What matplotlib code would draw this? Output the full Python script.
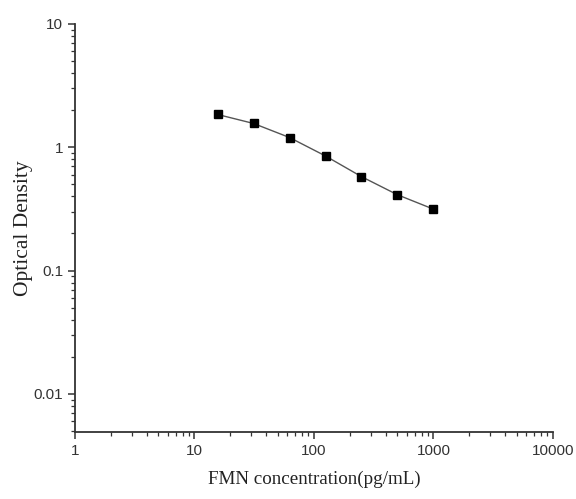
import matplotlib as mpl
mpl.use("Agg")
import matplotlib.pyplot as plt
from matplotlib.ticker import LogLocator, FixedLocator, FixedFormatter, NullFormatter

conc = [15.625, 31.25, 62.5, 125, 250, 500, 1000]
od = [1.845, 1.56, 1.20, 0.85, 0.578, 0.412, 0.315]

xticks = [1, 10, 100, 1000, 10000]
xlabels = ['1', '10', '100', '1000', '10000']
yticks = [0.01, 0.1, 1, 10]
ylabels = ['0.01', '0.1', '1', '10']

fig = plt.figure(figsize=(5.76, 4.99), dpi=100)
ax = fig.add_axes([0.130, 0.134, 0.830, 0.818])

ax.plot(conc, od, color='#555555', lw=1.0, marker='s', markersize=5.8,
        markerfacecolor='black', markeredgecolor='black')

ax.set_xscale('log')
ax.set_yscale('log')
ax.set_xlim(1, 10000)
ax.set_ylim(0.0049, 10)

ax.xaxis.set_major_locator(FixedLocator(xticks))
ax.xaxis.set_major_formatter(FixedFormatter(xlabels))
ax.yaxis.set_major_locator(FixedLocator(yticks))
ax.yaxis.set_major_formatter(FixedFormatter(ylabels))
ax.xaxis.set_minor_locator(LogLocator(base=10, subs=range(2, 10), numticks=20))
ax.yaxis.set_minor_locator(LogLocator(base=10, subs=range(2, 10), numticks=20))
ax.xaxis.set_minor_formatter(NullFormatter())
ax.yaxis.set_minor_formatter(NullFormatter())

for s in ['top', 'right']:
    ax.spines[s].set_visible(False)
for s in ['left', 'bottom']:
    ax.spines[s].set_linewidth(1.3)
    ax.spines[s].set_color('#333333')

ax.tick_params(which='major', direction='out', length=5, width=1.1, color='#333333',
               labelsize=11, labelcolor='#333333')
ax.tick_params(which='minor', direction='out', length=3, width=0.9, color='#333333')
for lab in ax.get_xticklabels() + ax.get_yticklabels():
    lab.set_family('Liberation Sans')

ax.set_xlabel('FMN concentration(pg/mL)', family='Liberation Serif', fontsize=13.7,
              color='#222222', labelpad=9)
ax.set_ylabel('Optical Density', family='Liberation Serif', fontsize=15.5,
              color='#222222', labelpad=0)

fig.savefig('out.png', dpi=100)
